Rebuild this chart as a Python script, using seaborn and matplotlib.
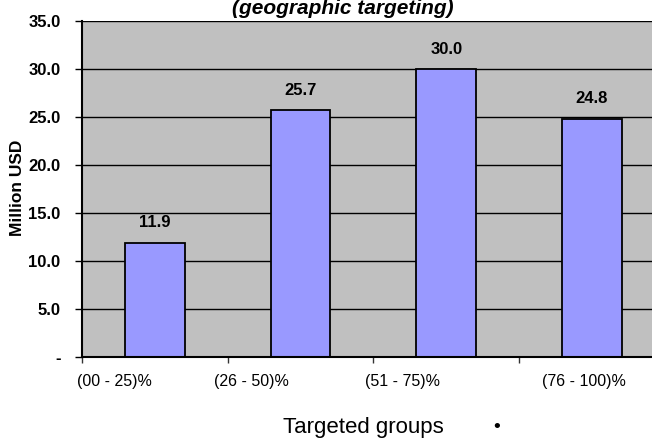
import matplotlib
matplotlib.use("Agg")
import matplotlib.pyplot as plt
import matplotlib.transforms as mtransforms
import seaborn as sns
import pandas as pd

# Funding per targeted-group bracket (million USD)
groups = ["(00 - 25)%", "(26 - 50)%", "(51 - 75)%", "(76 - 100)%"]
values = [11.9, 25.7, 30.0, 24.8]
y_ticks = [0, 5, 10, 15, 20, 25, 30, 35]
y_tick_labels = ["-" if t == 0 else f"{t:.1f}" for t in y_ticks]

title_text = "(geographic targeting)"
x_title = "Targeted groups"
y_title = "Million USD"

sns.set_theme(style="white")
plt.rcParams["font.family"] = ["Liberation Sans", "DejaVu Sans"]
plt.rcParams["text.color"] = "black"
plt.rcParams["xtick.color"] = "black"
plt.rcParams["ytick.color"] = "black"

W, H = 652, 441
fig = plt.figure(figsize=(W / 100, H / 100), dpi=100)
fig.patch.set_facecolor("white")

# plot area in pixel terms (extends slightly past the right edge)
left_px, top_px, bottom_px, slot_px = 82, 21, 357, 145.7
ax = fig.add_axes([left_px / W, 1 - bottom_px / H,
                   4 * slot_px / W, (bottom_px - top_px) / H])
ax.set_facecolor("#C0C0C0")

df = pd.DataFrame({"group": groups, "value": values})
sns.barplot(data=df, x="group", y="value", ax=ax, color="#9999FF",
            saturation=1, width=0.41, edgecolor="black", linewidth=1.3,
            zorder=3)
ax.set_xlim(-0.5, 3.5)
ax.set_ylim(0, 35)

# horizontal grid lines
ax.set_yticks(y_ticks)
ax.set_yticklabels(y_tick_labels, fontsize=12, fontweight="bold",
                   color="black")
ax.yaxis.grid(True, color="black", linewidth=1.0, zorder=1)
ax.set_axisbelow(True)
ax.tick_params(axis="y", which="major", direction="out", length=5,
               width=1, color="black", pad=10.5, left=True)

# category separators as minor ticks, labels at the centres
ax.set_xticks([-0.5, 0.5, 1.5, 2.5], minor=True)
ax.tick_params(axis="x", which="minor", direction="out", length=4,
               width=1, color="#333333", bottom=True)
ax.set_xticks(range(len(groups)))
ax.set_xticklabels(groups, fontsize=11.5, ha="left", color="black")
ax.tick_params(axis="x", which="major", length=0, pad=12)
label_shift_px = [-78, -87, -81, -50]
for lab, dx in zip(ax.get_xticklabels(), label_shift_px):
    off = mtransforms.ScaledTranslation(dx / 100, 0, fig.dpi_scale_trans)
    lab.set_transform(lab.get_transform() + off)

for side in ["top", "right"]:
    ax.spines[side].set_visible(False)
for side in ["left", "bottom"]:
    ax.spines[side].set_color("black")
    ax.spines[side].set_linewidth(1.5)
    ax.spines[side].set_zorder(4)

ax.set_xlabel("")
ax.set_ylabel("")

# value labels above the bars
ax.bar_label(ax.containers[0], labels=[f"{v:.1f}" for v in values],
             padding=9, fontsize=12, fontweight="bold", color="black")

# titles
fig.text(343 / W, 1 - 14 / H, title_text, ha="center", va="baseline",
         fontsize=15, fontweight="bold", fontstyle="italic")
fig.text(18 / W, 1 - 188 / H, y_title, ha="center", va="center",
         rotation=90, fontsize=12.5, fontweight="bold")
fig.text(363 / W, 1 - 427 / H, x_title, ha="center", va="center",
         fontsize=16)
fig.text(497 / W, 1 - 427 / H, "\u2022", ha="center", va="center",
         fontsize=14)

fig.savefig("out.png", dpi=100)
